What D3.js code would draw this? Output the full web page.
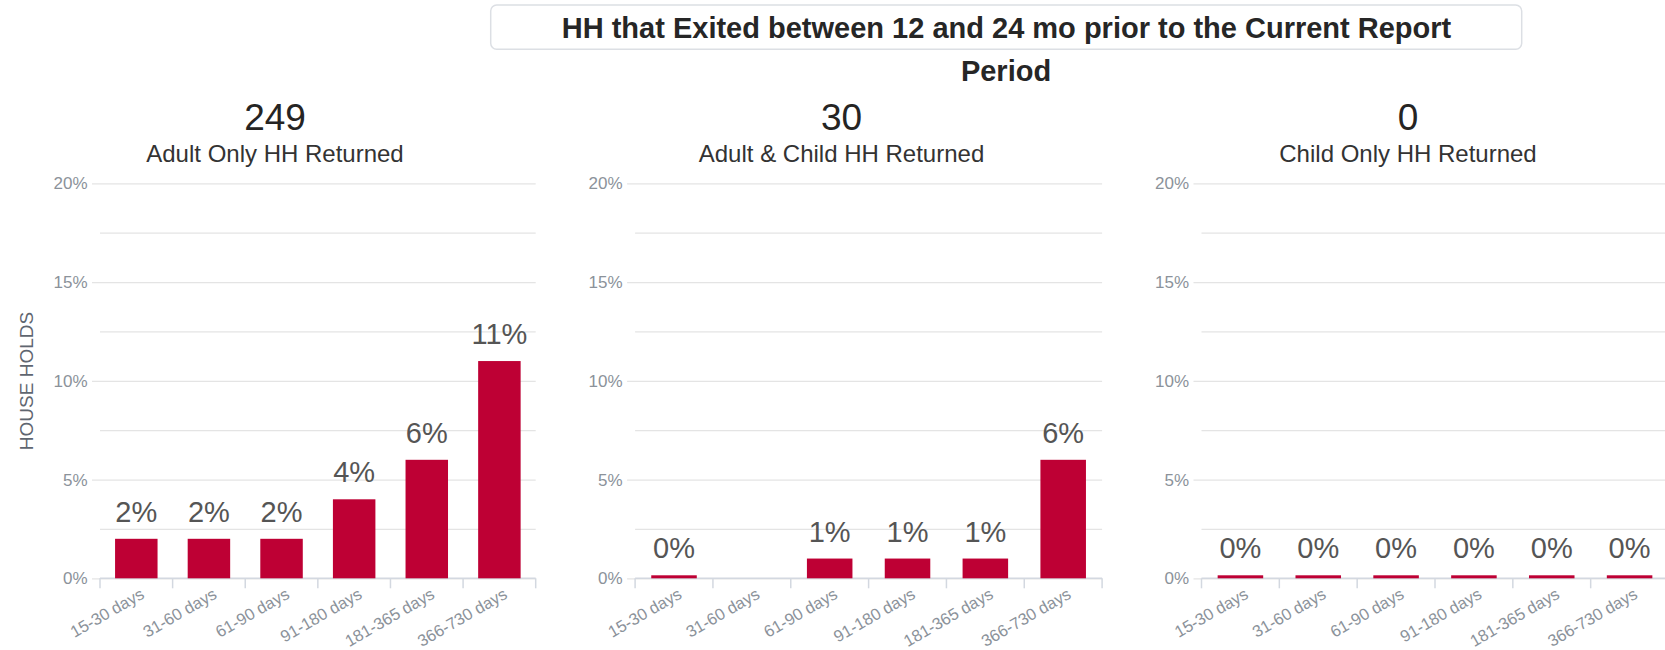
<!DOCTYPE html>
<html><head><meta charset="utf-8">
<script src="https://cdn.jsdelivr.net/npm/d3@7"></script>
<style>
body{margin:0;background:#fff;}
svg{display:block;font-family:"Liberation Sans",Arial,sans-serif;}
</style></head><body>
<svg id="chart" width="1665" height="650"></svg>
<script>
// ---- data ----
const chartTitle = "HH that Exited between 12 and 24 mo prior to the Current Report";
const periodLabel = "Period";
const yAxisTitle = "HOUSE HOLDS";
const categories = ["15-30 days","31-60 days","61-90 days","91-180 days","181-365 days","366-730 days"];
const panelCounts = [249, 30, 0];
const panelNames = ["Adult Only HH Returned","Adult & Child HH Returned","Child Only HH Returned"];
const adultOnlyValues = [2, 2, 2, 4, 6, 11];
const adultChildValues = [0, null, 1, 1, 1, 6];
const childOnlyValues = [0, 0, 0, 0, 0, 0];
const yTickValues = [0, 5, 10, 15, 20];
const yMinorValues = [2.5, 7.5, 12.5, 17.5];

const seriesList = [adultOnlyValues, adultChildValues, childOnlyValues];

// ---- layout ----
const svg = d3.select("#chart");
const y = d3.scaleLinear().domain([0, 20]).range([578.3, 183.3]);
const panelStep = 566.4;
const barColor = "#be0034";
const gridColor = "#e4e4e4";
const axisColor = "#d3d8e0";
const tickTextColor = "#8b929a";

// title box
svg.append("rect").attr("x", 490.7).attr("y", 5).attr("width", 1031).attr("height", 44.3)
  .attr("rx", 6).attr("fill", "#fff").attr("stroke", "#dcdfe4").attr("stroke-width", 1.5);
svg.append("text").attr("x", 1006.5).attr("y", 38.3).attr("text-anchor", "middle")
  .attr("font-size", 29).attr("font-weight", "bold").attr("fill", "#262626").text(chartTitle);
svg.append("text").attr("x", 1006).attr("y", 81).attr("text-anchor", "middle")
  .attr("font-size", 29).attr("font-weight", "bold").attr("fill", "#262626").text(periodLabel);

// y axis title
svg.append("text").attr("transform", "translate(33,381) rotate(-90)").attr("text-anchor", "middle")
  .attr("font-size", 19).attr("fill", "#5f6670").text(yAxisTitle);

seriesList.forEach((values, i) => {
  const right = 535.7 + i * panelStep;
  const left = i === 0 ? 100 : right - 467;
  const center = 275 + i * 566.5;
  const g = svg.append("g");

  // panel titles
  g.append("text").attr("x", center).attr("y", 130).attr("text-anchor", "middle")
    .attr("font-size", 37).attr("fill", "#252423").text(panelCounts[i]);
  g.append("text").attr("x", center).attr("y", 161.5).attr("text-anchor", "middle")
    .attr("font-size", 24).attr("fill", "#333").text(panelNames[i]);

  // minor gridlines
  const minor = g.append("g").attr("transform", `translate(${left},0)`)
    .call(d3.axisLeft(y).tickValues(yMinorValues).tickSize(-(right - left)).tickFormat(""));
  minor.select(".domain").remove();
  minor.selectAll("line").attr("stroke", gridColor).attr("stroke-width", 1.3);

  // major gridlines + labels
  const major = g.append("g").attr("transform", `translate(${left - 8},0)`)
    .call(d3.axisLeft(y).tickValues(yTickValues).tickSize(-(right - left + 8)).tickPadding(4.5)
      .tickFormat(d => d + "%"));
  major.select(".domain").remove();
  major.selectAll("line").attr("stroke", gridColor).attr("stroke-width", 1.3);
  major.selectAll("text").attr("font-size", 17).attr("fill", tickTextColor)
    .attr("font-family", "'Liberation Sans',Arial,sans-serif");

  // x scale
  const x = d3.scaleBand().domain(categories).range([left, right]).paddingInner(0.415).paddingOuter(0.2075);

  // axis line
  g.append("line").attr("x1", left).attr("x2", right).attr("y1", y(0)).attr("y2", y(0))
    .attr("stroke", axisColor).attr("stroke-width", 1.5);

  // tick marks between categories
  const boundaries = categories.map(c => x(c) - x.step() * x.paddingInner() / 2).concat([right]);
  g.selectAll(".tk").data(boundaries).enter().append("line")
    .attr("x1", d => d).attr("x2", d => d).attr("y1", y(0)).attr("y2", y(0) + 10)
    .attr("stroke", axisColor).attr("stroke-width", 1.5);

  // x labels
  const xa = g.append("g").attr("transform", `translate(0,${y(0)})`)
    .call(d3.axisBottom(x).tickSize(0));
  xa.select(".domain").remove();
  xa.selectAll("text").attr("font-size", 16.5).attr("fill", tickTextColor)
    .attr("font-family", "'Liberation Sans',Arial,sans-serif")
    .attr("text-anchor", "end").attr("x", 0).attr("y", 0).attr("dy", 0)
    .attr("transform", "translate(9,19) rotate(-30)");

  // bars
  const data = categories.map((c, k) => ({c, v: values[k]})).filter(d => d.v !== null);
  const topOf = d => Math.min(y(d.v), y(0) - 3);
  g.selectAll(".bar").data(data).enter().append("rect")
    .attr("x", d => x(d.c)).attr("width", x.bandwidth())
    .attr("y", d => topOf(d)).attr("height", d => y(0) - topOf(d))
    .attr("fill", barColor);

  // data labels
  g.selectAll(".lbl").data(data).enter().append("text")
    .attr("x", d => x(d.c) + x.bandwidth() / 2).attr("y", d => topOf(d) - 17)
    .attr("text-anchor", "middle").attr("font-size", 29).attr("fill", "#555")
    .text(d => d.v + "%");
});
</script>
</body></html>
